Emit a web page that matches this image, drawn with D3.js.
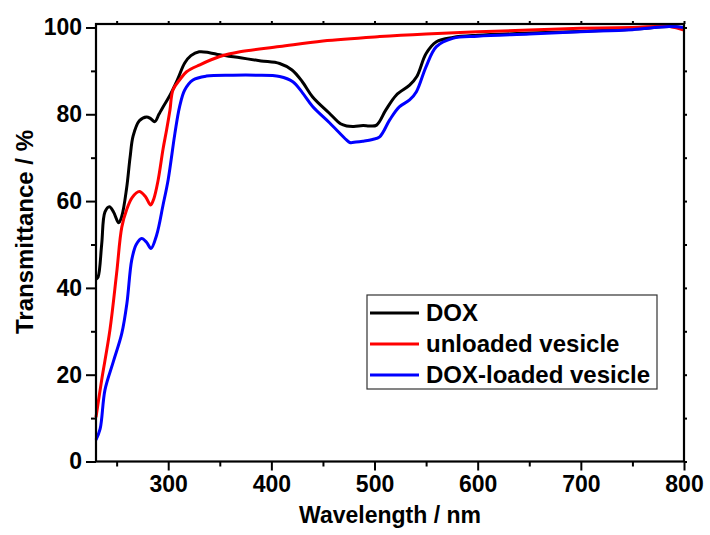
<!DOCTYPE html>
<html>
<head>
<meta charset="utf-8">
<script src="https://cdn.jsdelivr.net/npm/d3@7"></script>
<style>
  body { margin: 0; background: #fff; }
  text { font-family: "Liberation Sans", Arial, sans-serif; font-weight: bold; }
</style>
</head>
<body>
<div id="myPlot"></div>
<script>
// wavelength (nm) and transmittance (%)
const doxNm  = [230, 232, 235.5, 238.7, 243, 247, 252, 255, 259.7, 263, 266, 272, 279, 283, 287, 291, 295, 301.7, 309, 316, 322, 330, 340, 350, 370, 390, 408, 420, 430, 440, 456, 467, 473, 480, 489, 495, 502, 511, 521, 534, 541, 550, 560, 576, 600, 650, 700, 750, 786, 800];
const doxT   = [42, 42.5, 50, 57.5, 58.7, 57.5, 55, 56.5, 63, 70, 75, 78.5, 79.4, 79, 78.3, 80, 81.7, 84.4, 88, 91.8, 93.5, 94.4, 94.2, 93.7, 93, 92.3, 91.7, 90.2, 87.5, 84, 80.3, 77.8, 77.3, 77.2, 77.4, 77.3, 77.5, 81, 84.4, 86.7, 88.7, 94, 96.7, 97.7, 98.2, 98.7, 99.1, 99.6, 100.2, 99.9];

const unloadedNm = [230, 235.5, 243.5, 250, 255, 259.7, 265, 272, 278, 283, 286, 290.3, 295, 298.5, 301.7, 304.6, 311, 317.8, 330.7, 350, 369.5, 408, 450, 505, 550, 600, 650, 699, 750, 786, 800];
const unloadedT  = [10.2, 18.8, 30.3, 43.4, 54, 58, 60.8, 62.2, 61, 59.1, 60.5, 64.9, 72, 76.5, 81, 85.6, 87.9, 89.8, 91.4, 93.3, 94.4, 95.6, 96.9, 97.9, 98.5, 99, 99.4, 99.8, 100, 100.2, 99.4];

const loadedNm = [230, 234, 238.7, 246.8, 255, 260, 264.6, 269, 274.3, 279, 283.3, 288.8, 295, 300, 306.5, 311, 316, 324, 337, 362.7, 385, 408, 420.8, 430, 440, 456.6, 472.8, 476, 482, 488.6, 498, 505, 514.7, 524, 534, 540.6, 550, 560, 575.8, 600, 650, 699, 750, 786, 800];
const loadedT  = [5, 7.5, 16.5, 23, 29.5, 36.5, 46.4, 50, 51.4, 50.5, 49.1, 52.2, 59.1, 65, 75.6, 81.7, 85.6, 87.9, 88.8, 89, 89, 88.7, 87.5, 85, 81.8, 78, 74.1, 73.5, 73.6, 73.8, 74.2, 74.8, 78.7, 81.7, 83.3, 85.2, 91, 95.6, 97.5, 98, 98.5, 99, 99.5, 100.2, 100];

const seriesNames = ["DOX", "unloaded vesicle", "DOX-loaded vesicle"];
const seriesColors = ["#000000", "#ff0000", "#0000ff"];

const xTicks = [300, 400, 500, 600, 700, 800];
const yTicks = [0, 20, 40, 60, 80, 100];

const width = 710, height = 535;
const plotL = 96, plotR = 684, plotT = 24, plotB = 461.5;

const svg = d3.select("#myPlot").append("svg")
  .attr("width", width).attr("height", height);

const x = d3.scaleLinear().domain([230, 800]).range([plotL, plotR]);
const y = d3.scaleLinear().domain([0, 100.8]).range([plotB, plotT]);

// curves
const data = [
  d3.zip(doxNm, doxT),
  d3.zip(unloadedNm, unloadedT),
  d3.zip(loadedNm, loadedT)
];

const line = d3.line()
  .x(d => x(d[0]))
  .y(d => y(d[1]))
  .curve(d3.curveCatmullRom.alpha(0.5));

svg.append("g").selectAll("path")
  .data(data).enter()
  .append("path")
  .attr("d", line)
  .attr("fill", "none")
  .attr("stroke", (d, i) => seriesColors[i])
  .attr("stroke-width", 3)
  .attr("stroke-linejoin", "round");

// axes
const xMinor = d3.range(250, 800, 100);
const yMinor = d3.range(10, 100, 20);

const bottomAxis = svg.append("g")
  .attr("transform", "translate(0," + plotB + ")")
  .call(d3.axisBottom(x).tickValues(xTicks).tickSize(9).tickPadding(5));
bottomAxis.append("g").call(d3.axisBottom(x).tickValues(xMinor).tickSize(5).tickFormat(""));

const leftAxis = svg.append("g")
  .attr("transform", "translate(" + plotL + ",0)")
  .call(d3.axisLeft(y).tickValues(yTicks).tickSize(10).tickPadding(4));
leftAxis.append("g").call(d3.axisLeft(y).tickValues(yMinor).tickSize(5).tickFormat(""));

svg.append("g")
  .attr("transform", "translate(0," + plotT + ")")
  .call(d3.axisTop(x).tickValues(xTicks.concat(xMinor)).tickSize(3).tickFormat(""));
svg.append("g")
  .attr("transform", "translate(" + plotR + ",0)")
  .call(d3.axisRight(y).tickValues(yTicks.concat(yMinor)).tickSize(3).tickFormat(""));

svg.selectAll(".domain").remove();
svg.selectAll(".tick line").attr("stroke", "#000").attr("stroke-width", 2);
svg.selectAll(".tick text").attr("font-size", 23).attr("fill", "#000");

// frame
svg.append("rect")
  .attr("x", plotL).attr("y", plotT)
  .attr("width", plotR - plotL).attr("height", plotB - plotT)
  .attr("fill", "none").attr("stroke", "#000").attr("stroke-width", 2.2);

// axis titles
svg.append("text")
  .attr("x", (plotL + plotR) / 2).attr("y", 523)
  .attr("text-anchor", "middle").attr("font-size", 23)
  .text("Wavelength / nm");

svg.append("text")
  .attr("transform", "translate(33,232) rotate(-90)")
  .attr("text-anchor", "middle").attr("font-size", 24)
  .text("Transmittance / %");

// legend
const legend = svg.append("g");
legend.append("rect")
  .attr("x", 367).attr("y", 295).attr("width", 290).attr("height", 94)
  .attr("fill", "#fff").attr("stroke", "#333").attr("stroke-width", 1.2);

const rows = legend.selectAll(".row")
  .data(seriesNames).enter()
  .append("g")
  .attr("transform", (d, i) => "translate(0," + (313 + i * 31) + ")");

rows.append("line")
  .attr("x1", 370).attr("x2", 419)
  .attr("stroke", (d, i) => seriesColors[i])
  .attr("stroke-width", 3);

rows.append("text")
  .attr("x", 426).attr("y", 8)
  .attr("font-size", 24)
  .text(d => d);
</script>
</body>
</html>
